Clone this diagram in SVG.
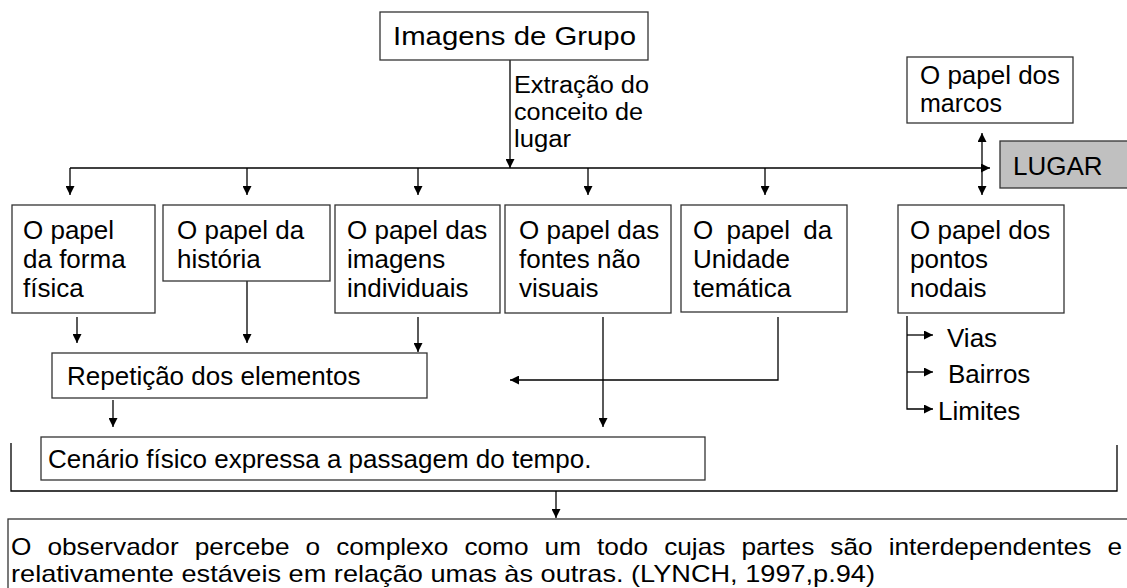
<svg xmlns="http://www.w3.org/2000/svg" width="1127" height="588" viewBox="0 0 1127 588">
<defs>
<marker id="ah" viewBox="0 0 10 10" refX="10" refY="5" markerWidth="9" markerHeight="9" markerUnits="userSpaceOnUse" orient="auto-start-reverse"><path d="M0,0 L10,5 L0,10 z" fill="#000"/></marker>
</defs>
<style>
.b{fill:#fff;stroke:#333;stroke-width:1.3}
.g{fill:#c0c0c0;stroke:#333;stroke-width:1.3}
text{font-family:"Liberation Sans",Arial,sans-serif;font-size:26px;fill:#000}
.s{font-size:23px}
.o{font-size:24px}
.m{font-size:25px}
.c{fill:none;stroke:#000;stroke-width:1.3}
.a{marker-end:url(#ah)}
.d{marker-start:url(#ah);marker-end:url(#ah)}
</style>
<rect width="1127" height="588" fill="#fff"/>
<g id="connectors">
<path class="c a" d="M510,60 V168"/>
<path class="c a" d="M70,168 H990"/>
<path class="c a" d="M70,168 V195"/>
<path class="c a" d="M247,168 V195"/>
<path class="c a" d="M418,168 V195"/>
<path class="c a" d="M588,168 V195"/>
<path class="c a" d="M765,168 V195"/>
<path class="c d" d="M982,133 V195"/>
<path class="c a" d="M77,317 V343"/>
<path class="c a" d="M247,281 V343"/>
<path class="c a" d="M418,317 V352"/>
<path class="c a" d="M113,400 V427"/>
<path class="c a" d="M603,317 V427"/>
<path class="c a" d="M778,317 V380 H510"/>
<path class="c" d="M11,443 V491 H1117 V445"/>
<path class="c a" d="M556,491 V518"/>
<path class="c a" d="M907,316 V409 H933"/>
<path class="c a" d="M907,335 H933"/>
<path class="c a" d="M907,372 H933"/>
</g>
<g id="imagens-grupo">
<rect class="b" x="380" y="12" width="268" height="48"/>
<text x="393" y="45" font-size="27" textLength="243" lengthAdjust="spacingAndGlyphs">Imagens de Grupo</text>
</g>
<g id="extracao-label">
<text class="s" x="514" y="93" textLength="135" lengthAdjust="spacingAndGlyphs">Extração do</text>
<text class="s" x="514" y="120" textLength="129" lengthAdjust="spacingAndGlyphs">conceito de</text>
<text class="s" x="514" y="147" textLength="57" lengthAdjust="spacingAndGlyphs">lugar</text>
</g>
<g id="marcos">
<rect class="b" x="907" y="57" width="166" height="66"/>
<text class="m" x="920" y="84" textLength="140" lengthAdjust="spacingAndGlyphs">O papel dos</text>
<text class="m" x="920" y="112">marcos</text>
</g>
<g id="lugar">
<rect class="g" x="1000" y="141" width="140" height="47"/>
<text x="1013" y="175" font-size="29">LUGAR</text>
</g>
<g id="forma-fisica">
<rect class="b" x="12" y="205" width="143" height="108"/>
<text x="23" y="239">O papel</text>
<text x="23" y="268">da forma</text>
<text x="23" y="297">física</text>
</g>
<g id="historia">
<rect class="b" x="163" y="205" width="167" height="76"/>
<text x="177" y="239">O papel da</text>
<text x="177" y="268">história</text>
</g>
<g id="imagens-individuais">
<rect class="b" x="335" y="205" width="165" height="108"/>
<text x="347" y="239">O papel das</text>
<text x="347" y="268">imagens</text>
<text x="347" y="297">individuais</text>
</g>
<g id="fontes-nao-visuais">
<rect class="b" x="505" y="205" width="166" height="108"/>
<text x="519" y="239">O papel das</text>
<text x="519" y="268">fontes não</text>
<text x="519" y="297">visuais</text>
</g>
<g id="unidade-tematica">
<rect class="b" x="681" y="205" width="166" height="107"/>
<text x="693" y="239" word-spacing="6">O papel da</text>
<text x="693" y="268">Unidade</text>
<text x="693" y="297">temática</text>
</g>
<g id="pontos-nodais">
<rect class="b" x="898" y="205" width="166" height="108"/>
<text x="910" y="239">O papel dos</text>
<text x="910" y="268">pontos</text>
<text x="910" y="297">nodais</text>
</g>
<g id="vias"><text x="947" y="347">Vias</text></g>
<g id="bairros"><text x="948" y="383">Bairros</text></g>
<g id="limites"><text x="938" y="420">Limites</text></g>
<g id="repeticao">
<rect class="b" x="52" y="353" width="375" height="45"/>
<text x="67" y="385">Repetição dos elementos</text>
</g>
<g id="cenario">
<rect class="b" x="41" y="437" width="664" height="43"/>
<text x="48" y="468">Cenário físico expressa a passagem do tempo.</text>
</g>
<g id="observador">
<rect class="b" x="8" y="519" width="1130" height="80"/>
<text class="o" x="11" y="555" word-spacing="8" textLength="1111" lengthAdjust="spacingAndGlyphs">O observador percebe o complexo como um todo cujas partes são interdependentes e</text>
<text class="o" x="11" y="582" textLength="864" lengthAdjust="spacingAndGlyphs">relativamente estáveis em relação umas às outras. (LYNCH, 1997,p.94)</text>
</g>
</svg>
